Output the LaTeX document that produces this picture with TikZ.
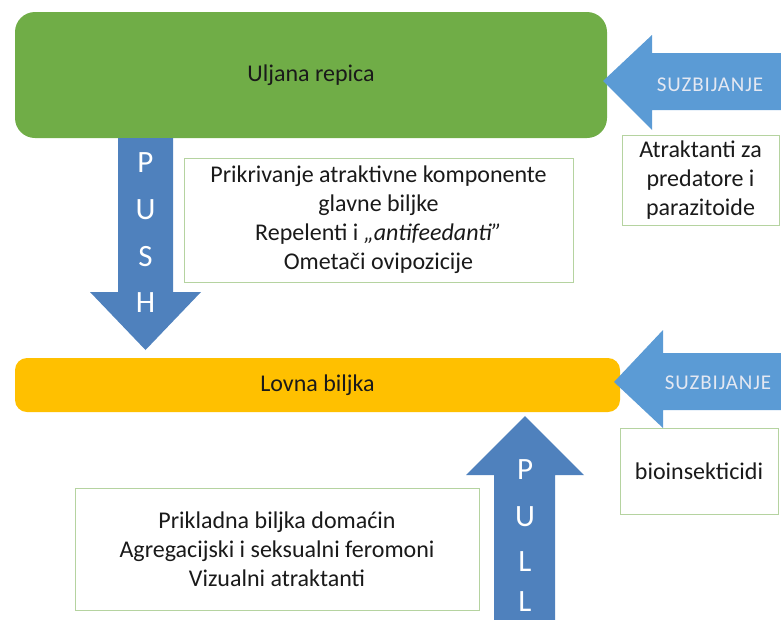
\documentclass[tikz,border=0pt]{standalone}
\usepackage{fontspec}
\setmainfont{Carlito}
\newfontfamily\widefont[LetterSpace=4]{Carlito}
\usetikzlibrary{positioning, calc}

\definecolor{uljgreen}{HTML}{70AD47}
\definecolor{lovyellow}{HTML}{FFC000}
\definecolor{pushblue}{HTML}{4F81BD}
\definecolor{sideblue}{HTML}{5B9BD5}
\definecolor{boxline}{HTML}{B5D3A0}
\definecolor{inktext}{HTML}{1A1A1A}
\definecolor{sidetext}{HTML}{E4E8F2}

\begin{document}
\begin{tikzpicture}[
    x=1pt, y=-1pt,
    plant/.style={rectangle, text=inktext, font=\fontsize{24}{29}\selectfont},
    textbox/.style={rectangle, draw=boxline, line width=0.8pt, fill=white, align=center, text=inktext, font=\fontsize{24}{29}\selectfont},
    pusharrow/.style={fill=pushblue},
    sidearrow/.style={fill=sideblue},
    letter/.style={text=white, font=\fontsize{31}{31}\selectfont},
    sidelabel/.style={text=sidetext, font=\widefont\fontsize{21}{24}\selectfont}
]
\useasboundingbox (0,0) rectangle (781,619);

% Plants
\node[plant, fill=uljgreen, rounded corners=20pt, minimum width=592, minimum height=126] (uljana) at (311,75) {Uljana repica};
\node[plant, fill=lovyellow, rounded corners=12pt, minimum width=605, minimum height=54] (lovna) at (317.5,385) {Lovna biljka};

% Push arrow
\fill[pusharrow] (118,138) -- (118,292) -- (90,292) -- (145.5,350) -- (201,292) -- (173,292) -- (173,138) -- cycle;
\foreach \ch/\yy in {P/163, U/210, S/257, H/303}
    \node[letter] (push\ch) at (145.5,\yy) {\ch};

% Pull arrow
\fill[pusharrow] (494,625) -- (494,475) -- (466,475) -- (525,416) -- (584,475) -- (555,475) -- (555,625) -- cycle;
\foreach \ch/\yy/\nm in {P/470/a, U/517/b, L/562/c, L/602/d}
    \node[letter] (pull\nm) at (525,\yy) {\ch};

% Suppression arrows
\fill[sidearrow] (785,53) -- (652,53) -- (652,35) -- (603,81) -- (652,130) -- (652,110) -- (785,110) -- cycle;
\node[sidelabel] (suzb1) at (710,85) {SUZBIJANJE};
\fill[sidearrow] (785,353) -- (663,353) -- (663,330) -- (614,382) -- (663,428) -- (663,410) -- (785,410) -- cycle;
\node[sidelabel] (suzb2) at (718,383) {SUZBIJANJE};

% Text boxes
\node[textbox, minimum width=389, minimum height=124] (pushbox) at (378.5,220) {Prikrivanje atraktivne komponente\\glavne biljke\\Repelenti i {\itshape „antifeedanti”}\\Ometači ovipozicije};
\node[textbox, minimum width=404, minimum height=122] (pullbox) at (277,549) {Prikladna biljka domaćin\\Agregacijski i seksualni feromoni\\Vizualni atraktanti};
\node[textbox, minimum width=157, minimum height=90] (predbox) at (700.5,180) {Atraktanti za\\predatore i\\parazitoide};
\node[textbox, minimum width=158, minimum height=86] (bioins) at (699,471) {bioinsekticidi};
\end{tikzpicture}
\end{document}
